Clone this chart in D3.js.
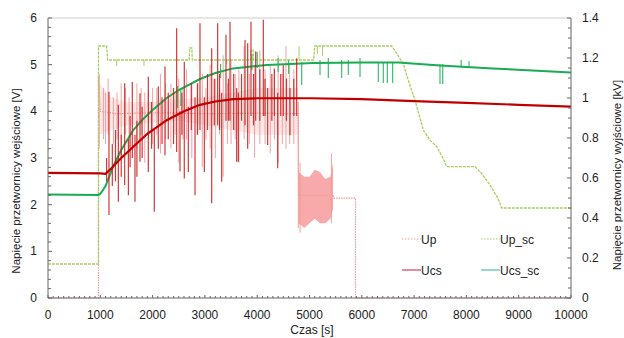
<!DOCTYPE html>
<html>
<head>
<meta charset="utf-8">
<script src="https://cdn.jsdelivr.net/npm/d3@7"></script>
<style>
  body { margin: 0; background: #fff; }
  text { font-family: "Liberation Sans", Arial, sans-serif; fill: #222; }
</style>
</head>
<body>
<div id="chart"></div>
<script>
// axis ticks
const xTicks = [0, 1000, 2000, 3000, 4000, 5000, 6000, 7000, 8000, 9000, 10000];
const yLeftTicks = [0, 1, 2, 3, 4, 5, 6];
const yRightTicks = [0, 0.2, 0.4, 0.6, 0.8, 1, 1.2, 1.4];
const yRightLabels = ["0", "0.2", "0.4", "0.6", "0.8", "1", "1.2", "1.4"];

// Up [V] - main trace [t, V]
const upLine = [[0, 0], [965, 0], [965, 4.76], [1000, 4.0], [1300, 3.95], [2000, 3.97], [3000, 3.95],
  [4000, 3.96], [4780, 3.95], [4790, 2.2], [5450, 2.2], [5460, 2.14], [5880, 2.14], [5880, 0], [10000, 0]];
// Up noisy band [t, lo, hi]
const upBand = [[980, 3.5, 4.6], [1200, 3.6, 4.3], [1500, 3.7, 4.2], [2000, 3.75, 4.2], [2500, 3.8, 4.25],
  [3000, 3.7, 4.3], [3500, 3.6, 4.4], [4000, 3.5, 4.5], [4500, 3.5, 4.5], [4780, 3.5, 4.5]];
const upBand2 = [[4790, 1.6, 2.7], [4900, 1.5, 2.6], [5000, 1.6, 2.6], [5100, 1.7, 2.75], [5200, 1.6, 2.7],
  [5300, 1.6, 2.55], [5400, 1.7, 2.6], [5450, 1.9, 2.9]];
// Up spikes [t, lo, hi]
const upSpikes = [[980, 3.2, 4.8], [1060, 3.4, 4.5], [1100, 3.3, 4.4], [1150, 3.5, 4.7], [1250, 3.3, 4.3],
  [1320, 3.4, 4.4], [1400, 3.0, 4.6], [1480, 3.5, 4.5], [1550, 3.2, 4.3], [1700, 3.2, 4.6], [1780, 3.5, 4.5],
  [1850, 2.9, 4.4], [1920, 3.4, 4.4], [2000, 3.3, 4.5], [2080, 3.5, 4.5], [2150, 3.1, 4.8], [2250, 3.4, 4.6],
  [2350, 3.2, 4.6], [2430, 3.5, 4.4], [2500, 2.9, 4.7], [2580, 3.4, 4.5], [2650, 3.4, 4.9], [2750, 3.0, 4.6],
  [2850, 3.5, 4.6], [2950, 2.8, 4.8], [3020, 3.4, 4.5], [3100, 3.2, 5.0], [3200, 3.0, 4.7], [3280, 3.5, 4.5],
  [3350, 2.6, 5.2], [3430, 3.3, 4.6], [3500, 3.3, 5.1], [3580, 3.4, 4.8], [3650, 2.9, 4.9], [3750, 3.4, 5.4],
  [3850, 3.3, 4.8], [3950, 3.0, 5.0], [4050, 3.3, 5.3], [4150, 3.3, 4.9], [4250, 3.1, 5.0], [4330, 3.4, 4.9],
  [4400, 2.9, 5.2], [4480, 3.3, 4.8], [4550, 3.2, 5.4], [4620, 3.3, 5.0], [4700, 3.3, 4.9], [4787, 1.5, 4.2],
  [4820, 1.4, 2.9], [5420, 1.6, 3.1]];

// Ucs [V]
const ucsLine = [[0, 2.68], [1000, 2.67], [1100, 2.66], [1185, 2.75], [1400, 3.0], [1631, 3.24], [1900, 3.52],
  [2270, 3.81], [2600, 4.0], [2906, 4.14], [3200, 4.21], [3540, 4.26], [4000, 4.28], [5000, 4.28],
  [6000, 4.26], [7000, 4.22], [8000, 4.18], [9000, 4.14], [10000, 4.1]];
const ucsSpikes = [[1120, 2.5, 3.0], [1166, 1.78, 4.42], [1230, 2.4, 3.3], [1290, 2.5, 3.6], [1345, 2.06, 4.14],
  [1400, 2.6, 3.5], [1466, 2.42, 4.6], [1537, 2.2, 3.4], [1570, 2.8, 3.9], [1612, 3.0, 4.63], [1663, 2.06, 3.5],
  [1700, 2.6, 3.8], [1759, 2.92, 4.39], [1800, 3.0, 4.1], [1918, 2.7, 4.74], [1980, 3.2, 4.2], [2033, 1.85, 3.6],
  [2109, 3.2, 4.53], [2180, 3.3, 4.3], [2237, 3.06, 4.96], [2300, 3.4, 4.4], [2400, 3.3, 4.5],
  [2460, 3.13, 5.78], [2524, 2.71, 4.0], [2560, 3.5, 4.4], [2606, 2.56, 5.06], [2683, 2.7, 4.1],
  [2740, 3.6, 4.6], [2811, 2.2, 4.3], [2860, 3.5, 4.6], [2906, 3.6, 5.89], [2989, 2.7, 4.3], [3050, 3.6, 4.8],
  [3130, 2.03, 5.35], [3180, 3.7, 4.7], [3244, 3.7, 5.89], [3280, 3.6, 4.8], [3321, 2.49, 4.4],
  [3403, 3.8, 5.64], [3450, 3.8, 4.7], [3480, 3.8, 5.92], [3550, 3.6, 4.8], [3608, 2.92, 4.5],
  [3639, 2.92, 4.4], [3700, 3.8, 4.8], [3767, 3.7, 5.53], [3818, 3.2, 5.46], [3881, 3.9, 5.92],
  [3930, 3.7, 4.8], [3971, 3.8, 5.28], [4050, 3.8, 4.9], [4117, 3.9, 5.96], [4150, 3.9, 4.7],
  [4200, 3.28, 4.5], [4280, 3.8, 4.8], [4327, 3.9, 4.92], [4392, 2.78, 4.4], [4450, 3.9, 4.8],
  [4499, 3.9, 4.99], [4560, 3.8, 4.7], [4627, 3.49, 4.5], [4700, 3.9, 4.7], [4755, 3.9, 5.14]];

// Up_sc [kV]
const upScLine = [[0, 0.17], [965, 0.17], [965, 1.26], [1120, 1.26], [1140, 1.19], [2700, 1.19], [2710, 1.25],
  [2750, 1.25], [2760, 1.19], [3870, 1.19], [3880, 1.24], [3920, 1.24], [3930, 1.19], [5080, 1.19],
  [5100, 1.26], [6570, 1.26], [6650, 1.23], [6793, 1.17], [6900, 1.08], [7017, 0.99], [7176, 0.84],
  [7300, 0.79], [7432, 0.757], [7550, 0.70], [7623, 0.657], [8164, 0.657], [8300, 0.62], [8451, 0.565],
  [8600, 0.5], [8675, 0.45], [10000, 0.45]];
const upScSpikes = [[1313, 1.16, 1.19], [1835, 1.16, 1.19], [3417, 1.17, 1.19], [4800, 1.19, 1.26],
  [5150, 1.22, 1.26], [5250, 1.21, 1.26]];

// Ucs_sc [kV]
const ucsScLine = [[0, 0.518], [960, 0.515], [1000, 0.52], [1100, 0.56], [1250, 0.66], [1400, 0.74],
  [1631, 0.84], [1800, 0.89], [2000, 0.94], [2270, 1.0], [2500, 1.04], [2906, 1.095], [3200, 1.125],
  [3540, 1.148], [4180, 1.165], [5070, 1.175], [6000, 1.178], [6700, 1.178], [7500, 1.163],
  [8500, 1.148], [10000, 1.127]];
const ucsScSpikes = [[2480, 0.95, 1.06], [2540, 0.96, 1.05], [3300, 1.1, 1.17], [3900, 1.14, 1.22],
  [4000, 1.15, 1.23], [4400, 1.13, 1.2], [4600, 1.12, 1.19], [4850, 1.065, 1.18], [5201, 1.115, 1.19],
  [5360, 1.1, 1.2], [5615, 1.1, 1.19], [5742, 1.115, 1.19], [5966, 1.105, 1.2], [6316, 1.08, 1.18],
  [6411, 1.075, 1.18], [6488, 1.075, 1.18], [6590, 1.075, 1.18], [7495, 1.07, 1.17], [7547, 1.07, 1.17],
  [7900, 1.16, 1.19], [8050, 1.155, 1.185]];

const legendItems = [
  { name: "Up", color: "#f4a0a0", dash: "1.5,1.5" },
  { name: "Up_sc", color: "#a8d060", dash: "1.5,1.5" },
  { name: "Ucs", color: "#d04060", dash: null },
  { name: "Ucs_sc", color: "#50c0a0", dash: null }
];

const W = 624, H = 338;
const m = { left: 48, right: 53, top: 18, bottom: 40 };
const iw = W - m.left - m.right, ih = H - m.top - m.bottom;

const svg = d3.select("#chart").append("svg").attr("width", W).attr("height", H);
const g = svg.append("g").attr("transform", `translate(${m.left},${m.top})`);

const x = d3.scaleLinear().domain([0, 10000]).range([0, iw]);
const yL = d3.scaleLinear().domain([0, 6]).range([ih, 0]);
const yR = d3.scaleLinear().domain([0, 1.4]).range([ih, 0]);

// frame top
g.append("line").attr("x1", 0).attr("x2", iw).attr("y1", 0).attr("y2", 0)
  .attr("stroke", "#ccc").attr("stroke-width", 1);

const lineL = d3.line().x(d => x(d[0])).y(d => yL(d[1]));
const lineR = d3.line().x(d => x(d[0])).y(d => yR(d[1]));
const bandL = d3.area().x(d => x(d[0])).y0(d => yL(d[1])).y1(d => yL(d[2]));

const plot = g.append("g");

function spikes(data, y, color, width, opacity) {
  plot.append("g").selectAll("line").data(data).join("line")
    .attr("x1", d => x(d[0])).attr("x2", d => x(d[0]))
    .attr("y1", d => y(d[1])).attr("y2", d => y(d[2]))
    .attr("stroke", color).attr("stroke-width", width).attr("opacity", opacity);
}

// Up
plot.append("path").datum(upBand).attr("d", bandL).attr("fill", "#f7b0b0").attr("opacity", 0.3);
plot.append("path").datum(upBand2).attr("d", bandL).attr("fill", "#f7a0a0").attr("opacity", 0.9);
spikes(upSpikes, yL, "#f29a9a", 1, 0.9);
plot.append("path").datum(upLine).attr("d", lineL).attr("fill", "none")
  .attr("stroke", "#f29a9a").attr("stroke-width", 1.2).attr("stroke-dasharray", "1.5,1");

// Up_sc
spikes(upScSpikes, yR, "#a8d060", 1, 1);
plot.append("path").datum(upScLine).attr("d", lineR).attr("fill", "none")
  .attr("stroke", "#a8d060").attr("stroke-width", 1.3).attr("stroke-dasharray", "3,1");

// Ucs_sc
spikes(ucsScSpikes, yR, "#3cbf70", 1.2, 1);
plot.append("path").datum(ucsScLine).attr("d", lineR).attr("fill", "none")
  .attr("stroke", "#1aab55").attr("stroke-width", 2);

// Ucs
spikes(ucsSpikes, yL, "#c81818", 1.2, 0.85);
plot.append("path").datum(ucsLine).attr("d", lineL).attr("fill", "none")
  .attr("stroke", "#c00000").attr("stroke-width", 2.2);

// axes
const axisColor = "#666";
const xAxis = g.append("g").attr("transform", `translate(0,${ih})`);
xAxis.append("line").attr("x1", 0).attr("x2", iw).attr("stroke", axisColor);
xAxis.selectAll(".minor").data(d3.range(0, 10001, 100)).join("line")
  .attr("x1", d => x(d)).attr("x2", d => x(d)).attr("y1", 0).attr("y2", d => d % 1000 === 0 ? -3 : -2)
  .attr("stroke", axisColor);
xAxis.selectAll("text").data(xTicks).join("text")
  .attr("x", d => x(d)).attr("y", 21).attr("text-anchor", "middle")
  .attr("font-size", 12).text(d => d);

const yAxisL = g.append("g");
yAxisL.append("line").attr("y1", 0).attr("y2", ih).attr("stroke", axisColor);
yAxisL.selectAll(".minor").data(d3.range(0, 31)).join("line")
  .attr("y1", d => yL(d * 0.2)).attr("y2", d => yL(d * 0.2)).attr("x1", 0).attr("x2", d => d % 5 === 0 ? 4 : 3)
  .attr("stroke", axisColor);
yAxisL.selectAll("text").data(yLeftTicks).join("text")
  .attr("x", -11).attr("y", d => yL(d) + 4).attr("text-anchor", "end")
  .attr("font-size", 12).text(d => d);

const yAxisR = g.append("g").attr("transform", `translate(${iw},0)`);
yAxisR.append("line").attr("y1", 0).attr("y2", ih).attr("stroke", axisColor);
yAxisR.selectAll(".minor").data(d3.range(0, 29)).join("line")
  .attr("y1", d => yR(d * 0.05)).attr("y2", d => yR(d * 0.05)).attr("x1", 0).attr("x2", d => d % 4 === 0 ? -4 : -3)
  .attr("stroke", axisColor);
yAxisR.selectAll("text").data(yRightTicks).join("text")
  .attr("x", 11).attr("y", d => yR(d) + 4).attr("text-anchor", "start")
  .attr("font-size", 12).text((d, i) => yRightLabels[i]);

// titles
svg.append("text").attr("transform", "translate(20,181) rotate(-90)").attr("text-anchor", "middle")
  .attr("font-size", 11.5).text("Napięcie przetwornicy wejściowe [V]");
svg.append("text").attr("transform", "translate(621,175) rotate(-90)").attr("text-anchor", "middle")
  .attr("font-size", 11.5).text("Napięcie przetwornicy wyjściowe [kV]");
svg.append("text").attr("x", 312).attr("y", 334).attr("text-anchor", "middle")
  .attr("font-size", 12).text("Czas [s]");

// legend
const leg = svg.append("g");
const legPos = [[402, 239], [481, 239], [402, 270], [481, 270]];
legendItems.forEach((d, i) => {
  const [lx, ly] = legPos[i];
  leg.append("line").attr("x1", lx).attr("x2", lx + 19).attr("y1", ly).attr("y2", ly)
    .attr("stroke", d.color).attr("stroke-width", 1.2).attr("stroke-dasharray", d.dash);
  leg.append("text").attr("x", lx + 19).attr("y", ly + 4.5).attr("font-size", 12).text(d.name);
});
</script>
</body>
</html>
